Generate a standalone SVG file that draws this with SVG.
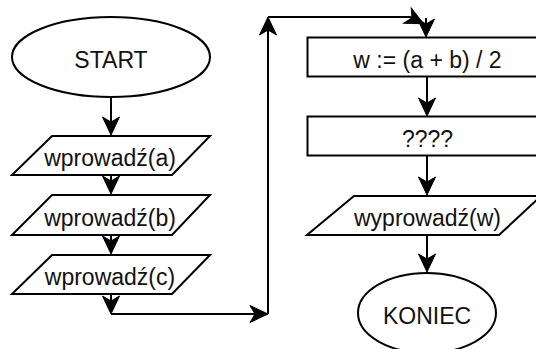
<svg xmlns="http://www.w3.org/2000/svg" width="536" height="349" viewBox="0 0 536 349">
  <style>
    .shape { fill: #ffffff; stroke: #000000; stroke-width: 2; }
    .label { font-family: "Liberation Sans", Arial, sans-serif; font-size: 23px; fill: #111111; text-anchor: middle; }
    .conn { fill: none; stroke: #000000; stroke-width: 2; marker-end: url(#arr); }
  </style>
  <defs>
    <marker id="arr" viewBox="-20 -10 22 20" markerWidth="22" markerHeight="20" refX="-4" refY="0" orient="auto" markerUnits="userSpaceOnUse">
      <path d="M0,0 L-18,-8.5 L-13,0 L-18,8.5 Z" fill="#000000" stroke="#000000" stroke-width="1" stroke-linejoin="miter"/>
    </marker>
  </defs>
  <rect width="536" height="349" fill="#ffffff"/>

  <g id="connectors">
    <path class="conn" d="M111,97 L111,131"/>
    <path class="conn" d="M111,175 L111,190"/>
    <path class="conn" d="M111,235 L111,250"/>
    <path class="conn" d="M111,294 L111,310"/>
    <path class="conn" d="M111,314 L264,314"/>
    <path class="conn" d="M268,314 L268,21"/>
    <path class="conn" d="M268,17 L410,17 L420,22"/>
    <path class="conn" d="M426,18 L426,33"/>
    <path class="conn" d="M427,77 L427,112"/>
    <path class="conn" d="M427,156 L427,191"/>
    <path class="conn" d="M427,235 L427,268"/>
  </g>

  <g id="start">
    <ellipse class="shape" cx="111" cy="57" rx="99" ry="40"/>
    <text class="label" x="111" y="67.5">START</text>
  </g>

  <g id="input-a">
    <polygon class="shape" points="52,136 210,136 172,175 12,175"/>
    <text class="label" x="110" y="166">wprowadź(a)</text>
  </g>

  <g id="input-b">
    <polygon class="shape" points="52,195 210,195 172,235 12,235"/>
    <text class="label" x="110" y="225.5">wprowadź(b)</text>
  </g>

  <g id="input-c">
    <polygon class="shape" points="52,255 210,255 172,294 12,294"/>
    <text class="label" x="110" y="285">wprowadź(c)</text>
  </g>

  <g id="assign-w">
    <rect class="shape" x="307.5" y="37.5" width="240" height="39"/>
    <text class="label" x="427.5" y="68">w := (a + b) / 2</text>
  </g>

  <g id="unknown">
    <rect class="shape" x="307.5" y="116.5" width="240" height="39"/>
    <text class="label" x="427.5" y="147">????</text>
  </g>

  <g id="output-w">
    <polygon class="shape" points="354,196 541,196 499,235 307,235"/>
    <text class="label" x="427.5" y="226">wyprowadź(w)</text>
  </g>

  <g id="end">
    <ellipse class="shape" cx="427" cy="313" rx="69" ry="40"/>
    <text class="label" x="427" y="324">KONIEC</text>
  </g>
</svg>
